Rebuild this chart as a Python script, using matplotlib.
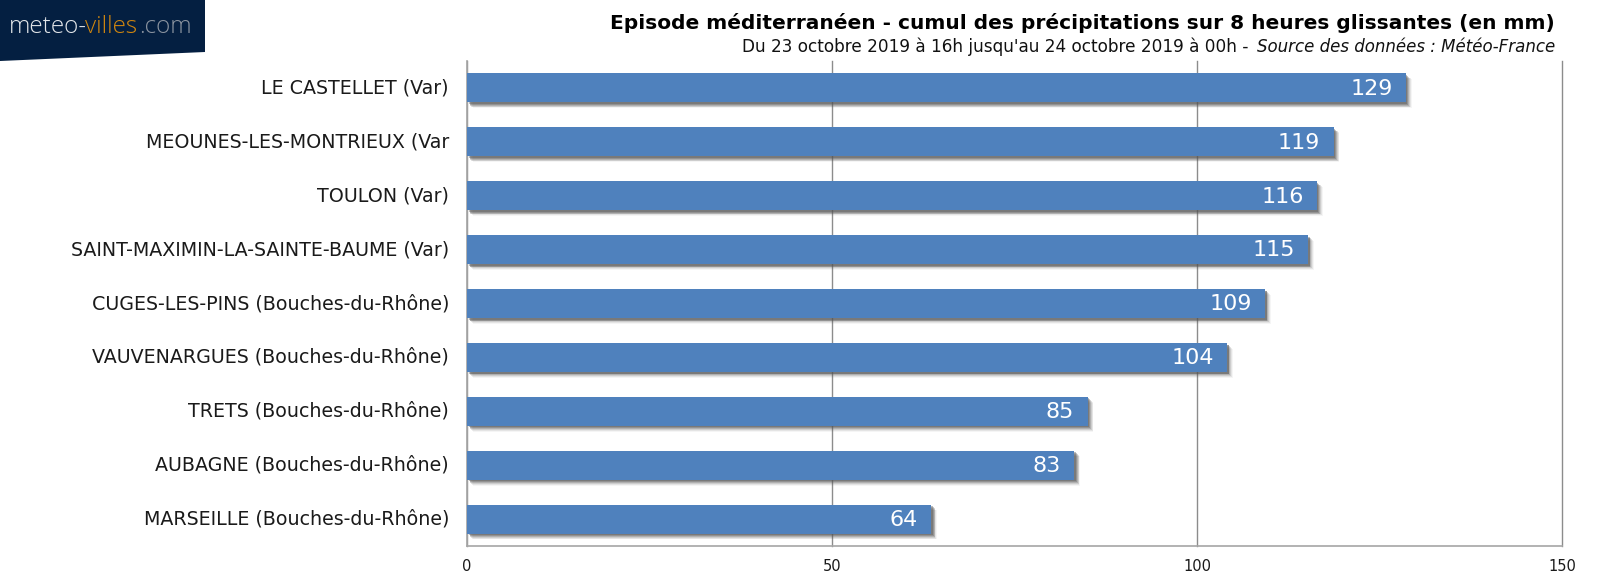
#!/usr/bin/env python3
"""Episode mediterraneen: horizontal bar chart of 8h rainfall totals."""

import matplotlib

matplotlib.use("Agg")  # non-GUI backend
import matplotlib.patheffects as pe
import matplotlib.pyplot as plt
from matplotlib.patches import Polygon

WIDTH, HEIGHT = 1600, 580

STATIONS = [
    "LE CASTELLET (Var)",
    "MEOUNES-LES-MONTRIEUX (Var",
    "TOULON (Var)",
    "SAINT-MAXIMIN-LA-SAINTE-BAUME (Var)",
    "CUGES-LES-PINS (Bouches-du-Rhône)",
    "VAUVENARGUES (Bouches-du-Rhône)",
    "TRETS (Bouches-du-Rhône)",
    "AUBAGNE (Bouches-du-Rhône)",
    "MARSEILLE (Bouches-du-Rhône)",
]
# bar lengths, the labels show them rounded
RAINFALL_MM = [128.6, 118.7, 116.4, 115.2, 109.3, 104.1, 85.0, 83.2, 63.6]
X_TICKS = [0, 50, 100, 150]

TITLE = "Episode méditerranéen - cumul des précipitations sur 8 heures glissantes (en mm)"
SUBTITLE = "Du 23 octobre 2019 à 16h jusqu'au 24 octobre 2019 à 00h -"
SOURCE = "Source des données : Météo-France"

BAR_COLOR = "#4f81bd"
GRID_COLOR = "#8c8c8c"
LOGO_COLOR = "#041f41"


def fx(px):
    return px / WIDTH


def fy(py):
    # pixel rows counted from the top, like in the reference
    return 1 - py / HEIGHT


plt.rcParams["font.family"] = ["DejaVu Sans"]

fig = plt.figure(figsize=(WIDTH / 100, HEIGHT / 100), dpi=100)
ax = fig.add_axes([fx(467), fy(546), fx(1562 - 467), fy(61) - fy(546)])

positions = list(range(len(STATIONS)))
bars = ax.barh(positions, RAINFALL_MM, height=0.54, color=BAR_COLOR, zorder=3)

# soft shadow under each bar, a few layers fading outwards
SHADOW_LAYERS = [(4.2, 0.06), (3.6, 0.10), (3.0, 0.16), (2.4, 0.24), (1.8, 0.32), (1.2, 0.40)]
for bar in bars:
    effects = [
        pe.SimplePatchShadow(offset=(d, -d), shadow_rgbFace="#555555", alpha=a)
        for d, a in SHADOW_LAYERS
    ]
    bar.set_path_effects(effects + [pe.Normal()])

# value labels inside the bar end
for pos, value in zip(positions, RAINFALL_MM):
    ax.annotate(
        f"{value:.0f}",
        xy=(value, pos),
        xytext=(-9.5, 0.8),
        textcoords="offset points",
        ha="right",
        va="center_baseline",
        color="white",
        fontsize=16,
        zorder=4,
    )

ax.set_xlim(0, 150)
ax.set_ylim(len(STATIONS) - 0.5, -0.5)
ax.set_xticks(X_TICKS)
ax.set_yticks(positions)
ax.set_yticklabels(STATIONS, fontsize=13.7, color="#1a1a1a", va="center")
ax.tick_params(axis="y", length=0, pad=13)
ax.tick_params(axis="x", length=0, pad=9.5, labelsize=10.5, colors="#1a1a1a")

ax.grid(axis="x", color=GRID_COLOR, linewidth=1, zorder=1, clip_on=False)
ax.set_axisbelow(True)

for name in ["top", "right"]:
    ax.spines[name].set_visible(False)
for name in ["left", "bottom"]:
    ax.spines[name].set_color("#a6a6a6")
    ax.spines[name].set_linewidth(1.2)

# title block, right aligned
fig.text(fx(1555), fy(23), TITLE, ha="right", va="center", fontsize=14.5,
         fontweight="bold", color="black")
fig.text(fx(1555), fy(47), SOURCE, ha="right", va="center", fontsize=12,
         style="italic", color="#111111")
fig.text(fx(1249), fy(47), SUBTITLE, ha="right", va="center", fontsize=12.15,
         color="#111111")

# logo banner in the top left corner
fig.add_artist(Polygon(
    [(0, fy(0)), (fx(205), fy(0)), (fx(205), fy(52)), (0, fy(61))],
    closed=True, transform=fig.transFigure, facecolor=LOGO_COLOR, edgecolor="none",
))
LOGO_PARTS = [(9, "meteo-", "#e4e7ea"), (85, "villes", "#d0860f"), (139, ".com", "#8b94a0")]
for x_px, part, color in LOGO_PARTS:
    fig.text(fx(x_px), fy(33), part, ha="left", va="baseline", fontsize=17.5,
             color=color, family="Open Sans", fontweight="light")

fig.savefig("out.png", dpi=100, facecolor="white")
plt.close(fig)
